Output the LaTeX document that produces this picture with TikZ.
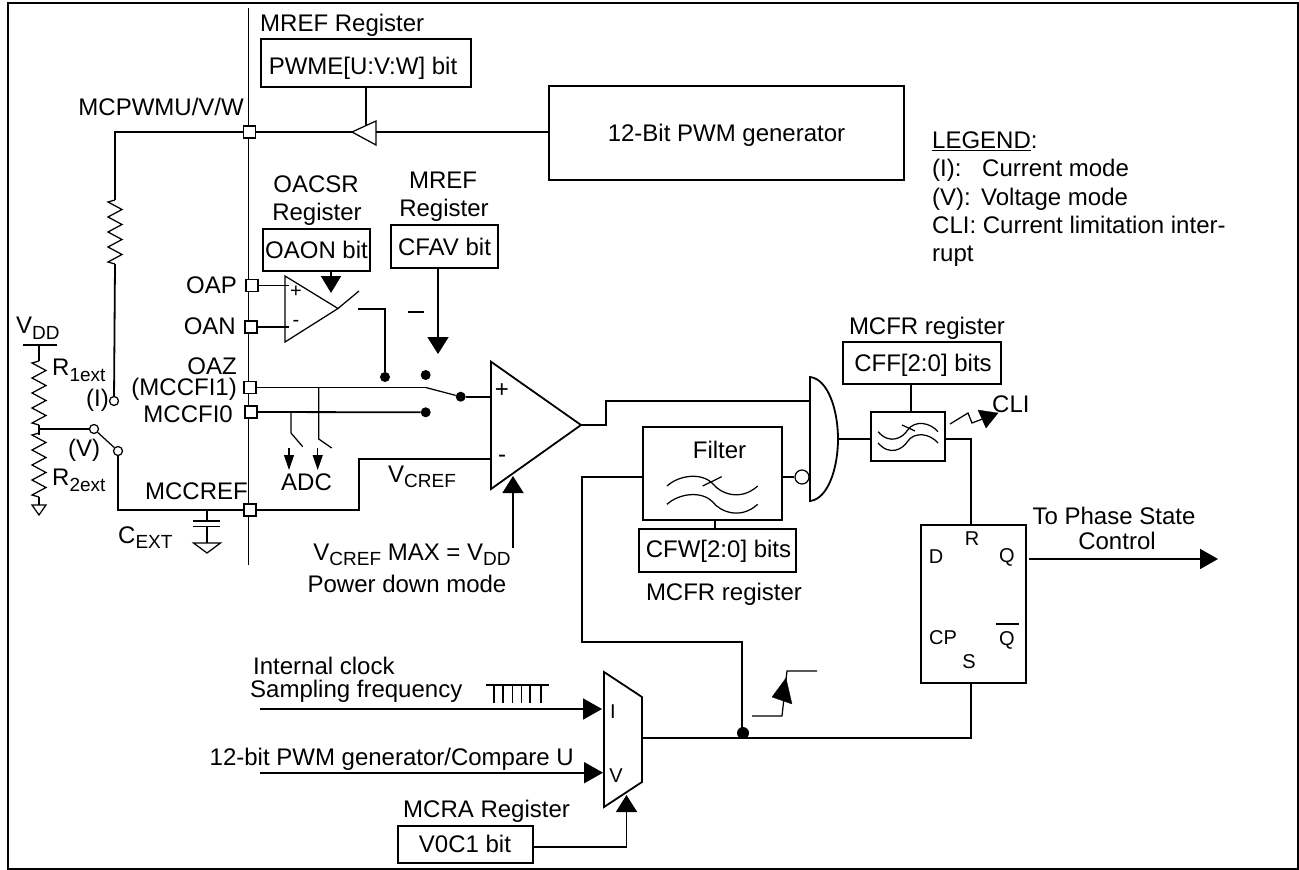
\documentclass[tikz,border=0pt]{standalone}
\usepackage{fontspec}
\setmainfont{Liberation Sans}
\usetikzlibrary{arrows.meta}
\tikzset{x=1pt,y=-1pt,
 wire/.style={line width=1.8pt},
 fine/.style={line width=1.25pt},
 box/.style={draw,line width=1.8pt,inner sep=0pt},
 pin/.style={draw,line width=1.8pt,fill=white,minimum size=12pt,inner sep=0pt},
 term/.style={draw,line width=1.25pt,fill=white,circle,minimum size=9pt,inner sep=0pt},
 dotn/.style={fill=black,circle,minimum size=10pt,inner sep=0pt},
 lab/.style={inner sep=0pt,font=\fontsize{24}{26}\selectfont,anchor=base},
 labw/.style={lab,anchor=base west},
 labe/.style={lab,anchor=base east},
 smal/.style={inner sep=0pt,font=\fontsize{20}{22}\selectfont,anchor=base},
 tipbig/.style={wire,-{Triangle[length=17pt,width=21pt]}},
 tipadc/.style={fine,-{Triangle[length=15pt,width=10pt]}},
}
\newcommand{\low}[1]{\raisebox{-5.5pt}{\fontsize{19}{19}\selectfont #1}}
\newcommand{\resist}[3]{\draw[fine] (#1,#2-2) -- (#1-7,#2)
  \foreach \k in {1,...,#3}{ -- ++(14,7.5) -- ++(-14,7.5)} -- ++(7,2);}
\newcommand{\wave}[4]{\draw[fine,shift={(#1,#2)},xscale=#3,yscale=#4] (0,0) .. controls (12,-11) and (35,-14) .. (46,-2) .. controls (53,7) and (73,16) .. (90.7,0);}
\begin{document}
\begin{tikzpicture}
\useasboundingbox (0,0) rectangle (1299,870);
\draw[line width=1.8pt] (8,2.7) rectangle (1298,869);
% bus
\coordinate (bt) at (248.5,8); \coordinate (bb) at (248.5,565);
\draw[wire] (bt) -- (bb);
% pins
\node[pin] (pU) at (249.5,132) {};
\node[pin] (pOAP) at (252,285.5) {};
\node[pin] (pOAN) at (251,327) {};
\node[pin] (pZ) at (250,387.5) {};
\node[pin] (p0) at (251,412) {};
\node[pin] (pR) at (250,510) {};
\node[labe] (tU) at (244,115.5) {MCPWMU/V/W};
\node[labe] (tOAP) at (237,293.5) {OAP};
\node[labe] (tOAN) at (236,334.5) {OAN};
\node[labe] (tOAZ) at (237,374.5) {OAZ};
\node[labe] (tF1) at (237,395.5) {(MCCFI1)};
\node[labe] (tF0) at (233,422) {MCCFI0};
\node[labe] (tR) at (248,499.5) {MCCREF};
% top registers
\node[labw] (tMR) at (260,31.5) {MREF Register};
\node[box,minimum width=210pt,minimum height=48pt] (pwme) at (366,63) {};
\node[lab] (tPW) at (363,74.5) {PWME[U:V:W] bit};
\node[box,minimum width=355pt,minimum height=94pt] (gen) at (726.5,133) {};
\node[lab] (tGen) at (726.5,141.5) {12-Bit PWM generator};
\coordinate (bufL) at (352,132);
\coordinate (bufR) at (376,132);
\coordinate (bufT) at (366,125.5);
\draw[wire] (pwme.south -| bufT) -- (bufT);
\draw[wire] (gen.west |- bufR) -- (bufR);
\draw[wire] (bufL) -- (pU);
\draw[fine] (bufL) -- (376,121) -- (376,145) -- cycle;
\coordinate (rTop) at (115,132);
\coordinate (rT) at (115,200);
\coordinate (rB) at (115,264);
\draw[wire] (pU) -- (rTop) -- (rT);
\resist{115}{202}{4}
\node[term] (tI) at (114,401) {};
\draw[wire] (rB) -- (tI);
% legend
\node[labw] (lg0) at (932,148.5) {\underline{LEGEND}:};
\node[labw] (lg1) at (932,176.5) {(I):};
\node[labw] (lg1b) at (982,176.5) {Current mode};
\node[labw] (lg2) at (932,205) {(V):};
\node[labw] (lg2b) at (981,205) {Voltage mode};
\node[labw] (lg3) at (932,233.5) {CLI: Current limitation inter-};
\node[labw] (lg4) at (932,261.5) {rupt};
% op amp registers
\node[lab] (tO1) at (316,192) {OACSR};
\node[lab] (tO2) at (317,220) {Register};
\node[box,minimum width=107pt,minimum height=42pt] (oaon) at (316.5,250) {};
\node[lab] (tOb) at (316.5,258) {OAON bit};
\node[lab] (tM1) at (443,188) {MREF};
\node[lab] (tM2) at (444,216.5) {Register};
\node[box,minimum width=107pt,minimum height=43pt] (cfav) at (444.5,246.5) {};
\node[lab] (tCb) at (444.5,255) {CFAV bit};
% op amp
\coordinate (oaTip) at (338,308.5);
\draw[fine] (285,276) -- (oaTip) -- (285,342) -- cycle;
\node[inner sep=0pt,font=\fontsize{20}{22}\selectfont] (oaP) at (296,292) {+};
\node[inner sep=0pt,font=\fontsize{20}{22}\selectfont] (oaM) at (296,323) {-};
\draw[wire] (pOAP) -- (289,285.5);
\draw[wire] (pOAN) -- (289,327);
\draw[tipbig,-{Triangle[length=17pt,width=20pt]}] (oaon.south -| 331,0) -- (331,293);
\coordinate (swA) at (359,291);
\draw[fine] (oaTip) -- (swA);
\node[dotn] (d1) at (385,377) {};
\draw[wire] (358,309) -- (385,309) -- (d1);
\coordinate (bA) at (408,312); \coordinate (bB) at (424,312);
\draw[wire] (bA) -- (bB);
\node[dotn] (d2) at (425.7,375) {};
\node[dotn] (d3) at (460.7,396.7) {};
\node[dotn] (d4) at (425.7,412.3) {};
\coordinate (cfT) at (438,354);
\draw[tipbig] (cfav.south -| cfT) -- (cfT);
\draw[wire] (pZ) -- (425.7,387.5);
\draw[fine] (425.7,387.5) -- (d3);
\draw[wire] (p0) -- (d4);
\coordinate (cp) at (491,396.7);
\draw[wire] (d3) -- (cp);
% ADC taps
\draw[fine] (318.7,387.5) -- (318.7,439) -- (331.7,448);
\draw[fine] (291,412) -- (291,433) -- (302.7,446.7);
\draw[tipadc] (289,448) -- (289,470);
\draw[tipadc] (317.7,448) -- (317.7,470);
\node[lab] (tADC) at (306.5,490) {ADC};
% comparator
\coordinate (cmpTip) at (581,425);
\draw[wire] (491,361.7) -- (cmpTip) -- (491,489) -- cycle;
\node[inner sep=0pt,font=\fontsize{24}{26}\selectfont] (cP) at (502,391) {+};
\node[inner sep=0pt,font=\fontsize{24}{26}\selectfont] (cM) at (502,459) {-};
\draw[wire] (pR) -- (359,510) -- (359,459) -- (491,459);
\node[labw] (tVc) at (388,482) {V\low{CREF}};
\coordinate (pdT) at (513,476);
\draw[tipbig] (513,547.5) -- (pdT);
\node[lab] (tVm) at (412,560) {V\low{CREF} MAX = V\low{DD}};
\node[lab] (tPd) at (407,592) {Power down mode};
% and gate
\coordinate (gt) at (810,377); \coordinate (gb) at (810,501); \coordinate (gr) at (838,439);
\draw[wire] (gt) .. controls (828,379) and (838,410) .. (gr) .. controls (838,468) and (828,499) .. (gb) -- cycle;
\draw[wire] (cmpTip) -- (606,425) -- (606,401) -- (810,401);
% filter
\node[box,minimum width=139pt,minimum height=93pt] (filt) at (712.5,473.5) {};
\node[lab] (tFl) at (719.5,458) {Filter};
\wave{667}{486}{1}{1}
\wave{667}{504.3}{1}{1}
\draw[fine] (702.7,486) -- (721.7,476.7);
\node[term,minimum size=14pt] (inv) at (802,477) {};
\draw[wire] (filt.east |- inv) -- (inv);
\coordinate (mxJ) at (742,737.7);
\draw[wire] (filt.west |- inv) -- (582,477) -- (582,642) -- (742,642) -- (mxJ);
\node[box,minimum width=157pt,minimum height=43pt] (cfw) at (717.5,550.5) {};
\node[lab] (tCw) at (718.5,557) {CFW[2:0] bits};
\draw[wire] (filt.south -| 715,0) -- (cfw.north -| 715,0);
\node[lab] (tMf) at (724,600) {MCFR register};
% second filter
\node[lab] (tMf2) at (927,334) {MCFR register};
\node[box,minimum width=158pt,minimum height=42pt] (cff) at (922,363) {};
\node[lab] (tCf) at (923,371) {CFF[2:0] bits};
\node[box,minimum width=74pt,minimum height=49pt] (f2) at (908,436.5) {};
\draw[wire] (cff.south -| 911,0) -- (f2.north -| 911,0);
\wave{938}{431.7}{-0.66}{0.85}
\wave{938}{443}{-0.66}{0.85}
\draw[fine] (902,425) -- (915,431);
\draw[wire] (gr) -- (f2.west |- gr);
% CLI
\draw[fine] (950,424) -- (968,413) -- (972,423) -- (985,418);
\draw[fill=black,line width=0.3pt] (978,410) -- (998,413) -- (986,428) -- cycle;
\node[labw] (tCL) at (992,412) {CLI};
% flip-flop
\node[box,minimum width=105pt,minimum height=158pt] (ff) at (973.5,604) {};
\draw[wire] (f2.east |- gr) -- (971,439) -- (ff.north -| 971,0);
\node[smal] (fD) at (936,563) {D};
\node[smal] (fR) at (972,545) {R};
\node[smal] (fQ) at (1007,562) {Q};
\node[smal] (fC) at (943,644) {CP};
\node[smal] (fS) at (969,668) {S};
\node[smal] (fN) at (1007,645) {Q};
\coordinate (nbL) at (996,624); \coordinate (nbR) at (1019,624);
\draw[fine] (nbL) -- (nbR);
\node[lab] (tTo) at (1114,524) {To Phase State};
\node[lab] (tCt) at (1117,549) {Control};
\coordinate (qS) at (1029,559); \coordinate (qE) at (1218,559);
\draw[wire,-{Triangle[length=18pt,width=20pt]}] (qS) -- (qE);
% mux
\draw[wire] (604,672) -- (642,697) -- (642,782) -- (604,807) -- cycle;
\node[smal] (mI) at (613,718) {I};
\node[smal] (mV) at (616,782) {V};
\coordinate (mxO) at (642,737.7);
\draw[wire] (mxO) -- (971,737.7) -- (ff.south -| 971,0);
\node[dotn,minimum size=12pt] (dm) at (743,733) {};
\node[labw] (tIc) at (253,674) {Internal clock};
\node[labw] (tSf) at (250,697) {Sampling frequency};
\coordinate (a1S) at (260,709); \coordinate (a1E) at (602,709);
\coordinate (a2S) at (260,772.7); \coordinate (a2E) at (603,772.7);
\draw[wire,-{Triangle[length=19pt,width=21pt]}] (a1S) -- (a1E);
\draw[wire,-{Triangle[length=19pt,width=21pt]}] (a2S) -- (a2E);
\node[labe] (tPw) at (574,765) {12-bit PWM generator/Compare U};
\draw[wire] (486,685) -- (549,685);
\foreach \x in {494,503,512.5,521.5,530,541} \draw[wire] (\x,685) -- (\x,703);
\node[labw] (tMc) at (403,817) {MCRA Register};
\node[box,minimum width=135pt,minimum height=37pt] (voc) at (465.5,844.5) {};
\node[lab] (tV0) at (465,852) {V0C1 bit};
\coordinate (voT) at (626.5,795);
\draw[wire,-{Triangle[length=17pt,width=21pt]}] (voc.east |- 0,847) -- (626.5,847) -- (voT);
% rising edge
\draw[fine] (752,716) -- (782,716) -- (787,671) -- (817,671);
\draw[fill=black,line width=0.3pt] (772,697) -- (786,678) -- (792,704) -- cycle;
% external divider
\node[labw] (tVd) at (16,333.5) {V\low{DD}};
\coordinate (vdL) at (23,345); \coordinate (vdR) at (57,345); \coordinate (vdM) at (39,345);
\draw[wire] (vdL) -- (vdR);
\draw[wire] (vdM) -- (39,361);
\resist{39}{363}{4}
\draw[wire] (39,425) -- (39,435);
\resist{39}{435}{4}
\node[term] (tV1) at (94,429) {};
\node[term] (tV2) at (118,451) {};
\draw[wire] (38,429) -- (tV1);
\draw[fine] (tV1) -- (tV2);
\draw[wire] (39,497) -- (39,505);
\draw[fine] (32,505) -- (46,505) -- (39,515) -- cycle;
\node[labw] (tR1) at (52,375.5) {R\low{1ext}};
\node[labw] (tR2) at (52,485.5) {R\low{2ext}};
\node[labw] (tIl) at (86,406.5) {(I)};
\node[labw] (tVl) at (68,456.5) {(V)};
\draw[wire] (tV2) -- (118,510) -- (pR);
\draw[wire] (207,510) -- (207,521);
\draw[wire] (193,521) -- (220,521);
\draw[wire] (193,526.5) -- (220,526.5);
\draw[wire] (207,526.5) -- (207,543);
\draw[fine] (193.5,543) -- (220.5,543) -- (207,553) -- cycle;
\node[labw] (tCE) at (118,543) {C\low{EXT}};
\end{tikzpicture}
\end{document}
